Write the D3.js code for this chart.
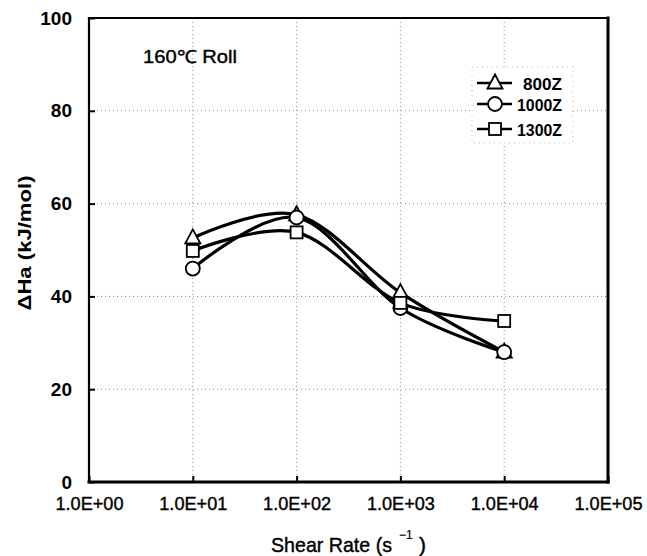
<!DOCTYPE html>
<html><head><meta charset="utf-8">
<script src="https://cdn.jsdelivr.net/npm/d3@7"></script>
<style>body{margin:0;background:#fff;} svg{display:block;}</style>
</head><body>
<script>
const shearRates = [10, 100, 1000, 10000];
const s800 = [52.6, 57.6, 40.8, 28.0];
const s1000 = [46.0, 57.0, 37.5, 28.0];
const s1300 = [49.8, 53.8, 38.6, 34.7];
const seriesNames = ["800Z", "1000Z", "1300Z"];
const seriesMarkers = ["triangle", "circle", "square"];
const xTicks = [1, 10, 100, 1000, 10000, 100000];
const xTickLabels = ["1.0E+00", "1.0E+01", "1.0E+02", "1.0E+03", "1.0E+04", "1.0E+05"];
const yTicks = [0, 20, 40, 60, 80, 100];

const W = 647, H = 556;
const L = 89, R = 608, T = 18, B = 482;
const FONT = "Liberation Sans, Arial, sans-serif";
const NARROW = "Liberation Sans Narrow, Liberation Sans, Arial, sans-serif";
const svg = d3.select("body").append("svg").attr("width", W).attr("height", H);
const x = d3.scaleLog().domain([1, 100000]).range([L, R]);
const y = d3.scaleLinear().domain([0, 100]).range([B, T]);

// grid
const grid = svg.append("g").attr("stroke", "#8a8a8a").attr("stroke-width", 1).attr("stroke-dasharray", "1,3");
xTicks.slice(1, -1).forEach(t => grid.append("line").attr("x1", x(t)).attr("x2", x(t)).attr("y1", T).attr("y2", B));
yTicks.slice(1, -1).forEach(t => grid.append("line").attr("x1", L).attr("x2", R).attr("y1", y(t)).attr("y2", y(t)));

// axes
const xAxis = d3.axisBottom(x).tickValues(xTicks).tickSizeInner(-6).tickSizeOuter(0)
  .tickFormat((d, i) => xTickLabels[i]);
const gx = svg.append("g").attr("transform", `translate(0,${B})`).call(xAxis);
gx.select(".domain").remove();
gx.selectAll("line").attr("stroke", "#000").attr("stroke-width", 2);
gx.selectAll("text").attr("font-family", NARROW).attr("font-size", 19).attr("fill", "#000")
  .attr("stroke", "#000").attr("stroke-width", 0.4)
  .attr("y", 28).attr("dy", 0).attr("textLength", 68).attr("lengthAdjust", "spacingAndGlyphs");

const yAxis = d3.axisLeft(y).tickValues(yTicks).tickSizeInner(-6).tickSizeOuter(0).tickPadding(17);
const gy = svg.append("g").attr("transform", `translate(${L},0)`).call(yAxis);
gy.select(".domain").remove();
gy.selectAll("line").attr("stroke", "#000").attr("stroke-width", 2);
gy.selectAll("text").attr("font-family", FONT).attr("font-size", 19).attr("font-weight", "bold").attr("fill", "#000");

// frame
const fr = svg.append("g").attr("stroke", "#000").attr("stroke-linecap", "square");
fr.append("line").attr("x1", L).attr("x2", L).attr("y1", T).attr("y2", B).attr("stroke-width", 2.2);
fr.append("line").attr("x1", L).attr("x2", R).attr("y1", T).attr("y2", T).attr("stroke-width", 2.2);
fr.append("line").attr("x1", R).attr("x2", R).attr("y1", T).attr("y2", B).attr("stroke-width", 3);
fr.append("line").attr("x1", L).attr("x2", R).attr("y1", B).attr("y2", B).attr("stroke-width", 3);

// titles
const xt = svg.append("g").attr("font-family", NARROW).attr("font-size", 21).attr("fill", "#000")
  .attr("stroke", "#000").attr("stroke-width", 0.4);
xt.append("text").attr("x", 271).attr("y", 552).attr("textLength", 121).attr("lengthAdjust", "spacingAndGlyphs").text("Shear Rate (s");
xt.append("text").attr("x", 399).attr("y", 539).attr("font-size", 12).attr("stroke-width", 0.2).text("−1");
xt.append("text").attr("x", 419).attr("y", 552).text(")");

svg.append("text").attr("transform", `translate(31,243) rotate(-90)`).attr("text-anchor", "middle")
  .attr("font-family", FONT).attr("font-size", 19).attr("font-weight", "bold")
  .attr("textLength", 135).attr("lengthAdjust", "spacingAndGlyphs")
  .text("ΔHa (kJ/mol)");
svg.append("text").attr("x", 143).attr("y", 63)
  .attr("font-family", FONT).attr("font-size", 18).attr("stroke", "#000").attr("stroke-width", 0.4)
  .attr("textLength", 94).attr("lengthAdjust", "spacingAndGlyphs")
  .text("160℃ Roll");

// series
const allSeries = [s800, s1000, s1300];
const line = d3.line().x(d => x(d[0])).y(d => y(d[1])).curve(d3.curveCardinal.tension(0));
function marker(g, type, cx, cy) {
  const st = sel => sel.attr("fill", "#fff").attr("stroke", "#000").attr("stroke-width", 1.8);
  if (type === "circle") st(g.append("circle").attr("cx", cx).attr("cy", cy).attr("r", 7));
  else if (type === "square") st(g.append("rect").attr("x", cx - 6).attr("y", cy - 6).attr("width", 12).attr("height", 12));
  else st(g.append("path").attr("d", `M${cx},${cy - 8.5}L${cx + 7.5},${cy + 5.5}L${cx - 7.5},${cy + 5.5}Z`));
}
allSeries.forEach((vals, i) => {
  const pts = shearRates.map((r, j) => [r, vals[j]]);
  svg.append("path").attr("d", line(pts)).attr("fill", "none").attr("stroke", "#000").attr("stroke-width", 3.2);
});
allSeries.forEach((vals, i) => {
  const g = svg.append("g");
  shearRates.forEach((r, j) => marker(g, seriesMarkers[i], x(r), y(vals[j])));
});

// legend
const lg = svg.append("g");
lg.append("rect").attr("x", 472).attr("y", 67).attr("width", 101).attr("height", 76)
  .attr("fill", "#fff").attr("stroke", "#bbb").attr("stroke-width", 1).attr("stroke-dasharray", "1,4");
const legY = [83, 104, 129];
seriesNames.forEach((n, i) => {
  lg.append("line").attr("x1", 477).attr("x2", 512).attr("y1", legY[i]).attr("y2", legY[i]).attr("stroke", "#000").attr("stroke-width", 2.5);
  marker(lg, seriesMarkers[i], 495, legY[i]);
  const sx = i === 0 ? 523 : 517;
  lg.append("text").attr("x", sx).attr("y", legY[i] + 6.5)
    .attr("font-family", FONT).attr("font-size", 17).attr("font-weight", "bold")
    .attr("textLength", 562 - sx).attr("lengthAdjust", "spacingAndGlyphs").text(n);
});
</script>
</body></html>
